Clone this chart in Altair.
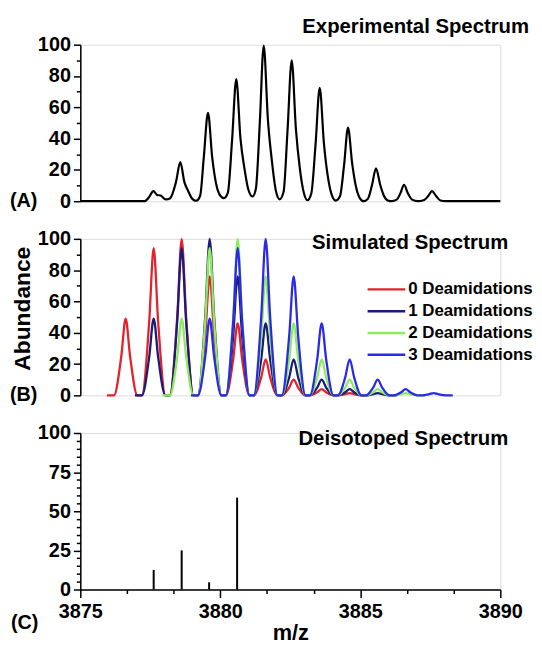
import altair as alt
import pandas as pd

# ---------------- data ----------------
# (A) experimental spectrum: vertices of the trace (m/z, abundance)
EXP_MZ = [3875.00, 3877.30, 3877.45, 3877.61, 3877.74, 3877.87, 3878.05,
          3878.20, 3878.42, 3878.57, 3878.72, 3878.84, 3879.00,
          3879.14, 3879.28, 3879.41, 3879.56, 3879.71, 3879.87, 3880.00,
          3880.13, 3880.27, 3880.42, 3880.57, 3880.72, 3880.87, 3881.00,
          3881.15, 3881.27, 3881.41, 3881.55, 3881.70, 3881.84, 3881.98,
          3882.12, 3882.26, 3882.40, 3882.55, 3882.70, 3882.84, 3882.98,
          3883.11, 3883.25, 3883.40, 3883.55, 3883.70, 3883.83, 3883.98,
          3884.12, 3884.27, 3884.42, 3884.56, 3884.71, 3884.83, 3884.98,
          3885.12, 3885.27, 3885.42, 3885.56, 3885.71, 3885.83, 3885.98,
          3886.12, 3886.30, 3886.43, 3886.56, 3886.70, 3886.85,
          3887.05, 3887.28, 3887.43, 3887.56, 3887.70, 3887.86,
          3888.05, 3890.00]
EXP_INT = [0.0, 0.0, 2.5, 6.5, 4.0, 3.6, 1.2,
           1.8, 12.5, 25.0, 12.0, 7.0, 1.5,
           0.3, 3.5, 28.0, 56.5, 28.0, 9.5, 3.5,
           2.0, 5.5, 39.0, 78.0, 40.0, 20.0, 7.5,
           3.0, 8.0, 50.0, 99.5, 52.0, 26.0, 7.0,
           1.2, 6.0, 45.0, 90.0, 46.0, 21.0, 5.5,
           0.6, 5.0, 36.0, 72.5, 37.0, 17.0, 4.0,
           0.4, 3.0, 23.0, 47.0, 24.0, 10.5, 2.0,
           0.0, 1.5, 10.5, 21.0, 10.5, 4.0, 0.5,
           0.0, 1.0, 5.0, 10.5, 5.0, 1.0,
           0.0, 0.8, 3.5, 6.5, 3.5, 0.5,
           0.0, 0.0]

# (B) simulated spectra: isotope peak heights per deamidation state
SIM_SERIES = ["0 Deamidations", "1 Deamidations", "2 Deamidations", "3 Deamidations"]
SIM_FIRST_PEAK = [3876.62, 3877.62, 3878.62, 3879.62]
SIM_HEIGHTS = [
    [49, 94, 100, 76, 46, 23, 10, 4, 1.5],
    [49, 94, 100, 76, 46, 23, 10, 4, 1.5],
    [49, 94, 100, 76, 46, 23, 10, 4, 1.5],
    [49, 94, 100, 76, 46, 23, 10, 4, 1.5],
]
SIM_START = [3875.95, 3876.95, 3877.93, 3878.95]
SIM_END = [3885.30, 3886.30, 3887.30, 3888.30]
SIM_COLORS = ["#e3232b", "#1b1b7a", "#8cec5c", "#2a2ae8"]

# (C) deisotoped spectrum sticks
DEISO_MZ = [3877.62, 3878.62, 3879.60, 3880.60]
DEISO_INT = [12.5, 25.0, 4.6, 58.7]

PANEL_TITLES = ["Experimental Spectrum", "Simulated Spectrum", "Deisotoped Spectrum"]
PANEL_TAGS = ["(A)", "(B)", "(C)"]
X_DOMAIN = [3875, 3890]

# ---------------- styling ----------------
FONT = "Liberation Sans"
W, H = 424, 158
HALF = 0.16   # half width at half maximum of simulated peaks
FOOT = 0.42   # half width at the base of simulated peaks

exp_df = pd.DataFrame({"mz": EXP_MZ, "abundance": EXP_INT})

rows = []
for s, first, hs, st, en in zip(SIM_SERIES, SIM_FIRST_PEAK, SIM_HEIGHTS, SIM_START, SIM_END):
    rows.append({"series": s, "mz": st, "abundance": 0.0})
    for k, h in enumerate(hs):
        p = first + k
        for dx, f in [(-FOOT, 0.0), (-HALF, 0.5), (0.0, 1.0), (HALF, 0.5), (FOOT, 0.0)]:
            rows.append({"series": s, "mz": p + dx, "abundance": h * f})
    rows.append({"series": s, "mz": en, "abundance": 0.0})
sim_df = pd.DataFrame(rows)

deiso_df = pd.DataFrame({"mz": DEISO_MZ, "abundance": DEISO_INT})
legend_df = pd.DataFrame({"series": SIM_SERIES, "row": list(range(len(SIM_SERIES)))})

x_scale = alt.Scale(domain=X_DOMAIN, nice=False, zero=False)
color_scale = alt.Scale(domain=SIM_SERIES, range=SIM_COLORS)


def y_axis(step, minor, title=None, title_y=79):
    vals = [i * minor for i in range(int(100 / minor) + 1)]
    kw = dict(
        values=vals,
        labelExpr=f"datum.value % {step} == 0 ? datum.label : ''",
        tickSize={"condition": {"test": f"datum.value % {step} == 0", "value": 7}, "value": 4},
        labelOverlap=False, labelFlush=False, grid=False,
        domainColor="black", tickColor="black", domainWidth=1.5, tickWidth=1.5,
        labelFont=FONT, labelFontSize=20, labelFontWeight="bold", labelColor="black",
        labelPadding=3,
    )
    if title:
        kw.update(title=title, titleFont=FONT, titleFontSize=23, titleFontWeight="bold",
                  titleColor="black", titleX=-58, titleY=title_y, titleAngle=270,
                  titleAlign="center", titleBaseline="middle")
    else:
        kw.update(title=None)
    return alt.Axis(**kw)


def text_layer(txt, x, y, size=20.5, align="left"):
    return alt.Chart(pd.DataFrame({"t": [txt]})).mark_text(
        align=align, baseline="middle", font=FONT, fontSize=size, fontWeight="bold", color="black"
    ).encode(x=alt.value(x), y=alt.value(y), text="t:N")


# ---------------- panel A ----------------
exp_line = alt.Chart(exp_df).mark_line(color="black", strokeWidth=2.2, interpolate="monotone").encode(
    x=alt.X("mz:Q", scale=x_scale, axis=None),
    y=alt.Y("abundance:Q", scale=alt.Scale(domain=[0, 100], nice=False), axis=y_axis(20, 10)),
)
panel_a = alt.layer(
    exp_line,
    text_layer(PANEL_TITLES[0], 453, -18, align="right"),
    text_layer(PANEL_TAGS[0], -71, 158, size=20),
).properties(width=W, height=H)

# ---------------- panel B ----------------
sim_lines = alt.Chart(sim_df).mark_line(strokeWidth=2.3, interpolate="monotone").encode(
    x=alt.X("mz:Q", scale=x_scale, axis=None),
    y=alt.Y("abundance:Q", scale=alt.Scale(domain=[0, 100], nice=False),
            axis=y_axis(20, 10, "Abundance", 70)),
    color=alt.Color("series:N", scale=color_scale, legend=None),
    detail="series:N",
)
leg_y = alt.Y("row:Q", scale=alt.Scale(domain=[0, 3], range=[51, 117]), axis=None)
leg_rules = alt.Chart(legend_df).mark_rule(strokeWidth=2.5).encode(
    x=alt.value(290), x2=alt.value(328), y=leg_y,
    color=alt.Color("series:N", scale=color_scale, legend=None),
)
leg_text = alt.Chart(legend_df).mark_text(
    align="left", baseline="middle", font=FONT, fontSize=17, fontWeight="bold", color="black"
).encode(x=alt.value(331), y=leg_y, text="series:N")
panel_b = alt.layer(
    sim_lines, leg_rules, leg_text,
    text_layer(PANEL_TITLES[1], 432, 4, align="right"),
    text_layer(PANEL_TAGS[1], -71, 158, size=20),
).resolve_scale(y="independent").properties(width=W, height=H)

# ---------------- panel C ----------------
x_vals = [round(X_DOMAIN[0] + i * 5 / 6, 4) for i in range(19)]
x_axis = alt.Axis(
    values=x_vals, format="d",
    labelExpr="datum.value % 5 == 0 ? datum.label : ''",
    tickSize={"condition": {"test": "datum.value % 5 == 0", "value": 8}, "value": 4},
    labelOverlap=False, labelFlush=False, grid=False,
    domainColor="black", tickColor="black", domainWidth=1.5, tickWidth=1.5,
    labelFont=FONT, labelFontSize=20, labelFontWeight="bold", labelColor="black", labelPadding=4,
    title="m/z", titleFont=FONT, titleFontSize=22, titleFontWeight="bold", titleColor="black",
    titlePadding=1,
)
sticks = alt.Chart(deiso_df).mark_rule(color="black", strokeWidth=2).encode(
    x=alt.X("mz:Q", scale=x_scale, axis=x_axis),
    y=alt.Y("abundance:Q", scale=alt.Scale(domain=[0, 100], nice=False), axis=y_axis(25, 5)),
    y2=alt.datum(0),
)
panel_c = alt.layer(
    sticks,
    text_layer(PANEL_TITLES[2], 432, 6, align="right"),
    text_layer(PANEL_TAGS[2], -70, 192, size=20),
).properties(width=W, height=H)

chart = alt.vconcat(panel_a, panel_b, panel_c, spacing=38, bounds="flush").properties(
    padding={"left": 1, "top": 5, "right": 0, "bottom": 2}
).configure_view(stroke=None).configure(font=FONT)

chart.save("out.html", embed_options={"renderer": "svg", "actions": False})
